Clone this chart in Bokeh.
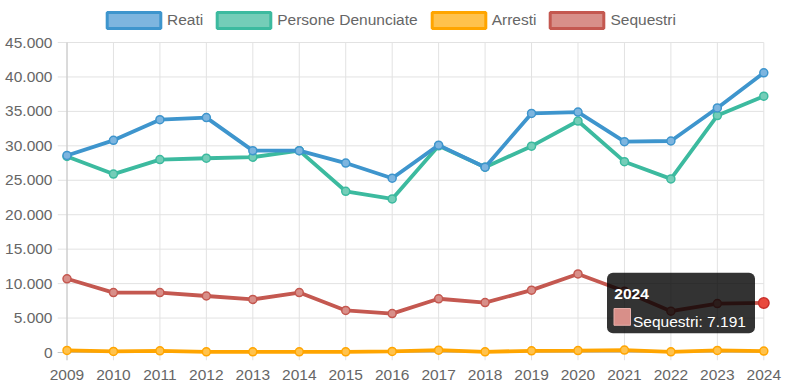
from bokeh.plotting import figure
from bokeh.models import Range1d, FixedTicker, Legend, LegendItem, ColumnDataSource
from bokeh.embed import file_html
from bokeh.resources import INLINE
from bokeh.core.properties import value

# ---------------- data ----------------
years = list(range(2009, 2025))
year_labels = [str(y) for y in years]
reati = [28600, 30800, 33800, 34100, 29300, 29300, 27500, 25300, 30100, 26900, 34700, 34900, 30600, 30700, 35500, 40600]
persone = [28450, 25900, 28000, 28200, 28350, 29300, 23400, 22300, 30000, 26900, 29950, 33600, 27700, 25200, 34400, 37200]
arresti = [300, 150, 250, 100, 100, 100, 100, 150, 340, 100, 250, 280, 350, 100, 300, 200]
sequestri = [10700, 8700, 8700, 8200, 7700, 8700, 6100, 5650, 7800, 7250, 9050, 11400, 8900, 6000, 7100, 7191]
y_ticks = [0, 5000, 10000, 15000, 20000, 25000, 30000, 35000, 40000, 45000]
y_tick_labels = ["0", "5.000", "10.000", "15.000", "20.000", "25.000", "30.000", "35.000", "40.000", "45.000"]
series_names = ["Reati", "Persone Denunciate", "Arresti", "Sequestri"]
tooltip_title = "2024"
tooltip_label = "Sequestri: 7.191"

# ---------------- styles ----------------
line_colors = ["#3e95cd", "#3cba9f", "#ffa500", "#c45850"]
fill_colors = ["#7db5df", "#74cdb8", "#ffc24d", "#d88f89"]
FONT = "Liberation Sans"
FS = "15.5px"
TXT = "#666666"
GRID = "#e2e2e2"
ZERO = "#c4c4c4"

W, H = 785, 390
B_LEFT, B_RIGHT, B_TOP, B_BOTTOM = 57, 14, 0, 30
PAD_L, PAD_B, PAD_T = 9.5, 8, 42
frame_w = W - B_LEFT - B_RIGHT
frame_h = H - B_TOP - B_BOTTOM
ppx = 696.8 / (years[-1] - years[0])
PAD_R = frame_w - PAD_L - 696.8
ppy = (frame_h - PAD_B - PAD_T) / (y_ticks[-1] - y_ticks[0])
x0 = years[0] - PAD_L / ppx
x1 = years[-1] + PAD_R / ppx
y0 = y_ticks[0] - PAD_B / ppy
y1 = y_ticks[-1] + PAD_T / ppy

p = figure(width=W, height=H, output_backend="svg", toolbar_location=None,
           x_range=Range1d(x0, x1), y_range=Range1d(y0, y1),
           min_border_left=B_LEFT, min_border_right=B_RIGHT,
           min_border_top=B_TOP, min_border_bottom=B_BOTTOM)
p.outline_line_color = None
p.background_fill_color = "white"
p.border_fill_color = "white"

# grid (drawn as segments so they stop at the chart area)
p.xgrid.visible = False
p.ygrid.visible = False
p.segment(x0=[x0] * len(y_ticks), x1=[years[-1]] * len(y_ticks), y0=y_ticks, y1=y_ticks,
          line_color=GRID, line_width=1)
p.segment(x0=years, x1=years, y0=[y0] * len(years), y1=[y_ticks[-1]] * len(years),
          line_color=GRID, line_width=1)
p.segment(x0=[x0], x1=[years[-1]], y0=[0], y1=[0], line_color=ZERO, line_width=1)
p.segment(x0=[years[0]], x1=[years[0]], y0=[y0], y1=[y_ticks[-1]], line_color=ZERO, line_width=1)

# axes
for ax in (p.xaxis, p.yaxis):
    ax.axis_line_color = None
    ax.major_tick_line_color = None
    ax.minor_tick_line_color = None
    ax.major_tick_out = 0
    ax.major_tick_in = 0
    ax.major_label_text_font = FONT
    ax.major_label_text_font_size = FS
    ax.major_label_text_color = TXT
p.xaxis.ticker = FixedTicker(ticks=years)
p.xaxis.major_label_overrides = {y: l for y, l in zip(years, year_labels)}
p.xaxis.major_label_standoff = 9
p.yaxis.ticker = FixedTicker(ticks=y_ticks)
p.yaxis.major_label_overrides = {t: l for t, l in zip(y_ticks, y_tick_labels)}
p.yaxis.major_label_standoff = 5

# series (drawn last-to-first, like the original)
all_series = [reati, persone, arresti, sequestri]
for i in reversed(range(4)):
    src = ColumnDataSource(dict(x=years, y=all_series[i]))
    p.line("x", "y", source=src, line_color=line_colors[i], line_width=3.8)
    p.scatter("x", "y", source=src, size=8, fill_color=fill_colors[i],
              line_color=line_colors[i], line_width=1.5)

# tooltip for the hovered point (2024, Sequestri)
ax_, ay_ = years[-1], sequestri[-1]
p.quad(left=[ax_ - 156.8 / ppx], right=[ax_ - 8.8 / ppx],
       top=[ay_ + 30.2 / ppy], bottom=[ay_ - 30.3 / ppy],
       fill_color="black", fill_alpha=0.8, line_color=None, border_radius=6)
p.quad(left=[ax_ - 149.8 / ppx], right=[ax_ - 133.3 / ppx],
       top=[ay_ - 5.6 / ppy], bottom=[ay_ - 22.3 / ppy],
       fill_color="#d88f89", line_color="#e8b0aa", line_width=1)
p.text(x=[ax_], y=[ay_], text=[tooltip_title], x_offset=-149.5, y_offset=-9.4,
       text_font=value(FONT), text_font_style="bold", text_font_size=FS,
       text_color="white", text_baseline="alphabetic", text_align="left")
p.text(x=[ax_], y=[ay_], text=[tooltip_label], x_offset=-130.8, y_offset=18.3,
       text_font=value(FONT), text_font_size=FS,
       text_color="white", text_baseline="alphabetic", text_align="left")
p.scatter(x=[ax_], y=[ay_], size=10.5, fill_color="#e9493d", line_color="#c9302c", line_width=1.5)

# legend (inside the frame, above the chart area); swatch renderers hold no drawable data
nan = float("nan")
items = []
for i in range(4):
    r = p.quad(left=[nan], right=[nan], top=[nan], bottom=[nan], fill_color=fill_colors[i],
               line_color=line_colors[i], line_width=3)
    items.append(LegendItem(label=series_names[i], renderers=[r]))
legend = Legend(items=items, orientation="horizontal", location=(43, 330),
                glyph_width=67, glyph_height=20, label_standoff=0, spacing=7,
                padding=0, margin=0, border_line_color=None, background_fill_alpha=0,
                label_text_font=FONT, label_text_font_size=FS, label_text_color=TXT)
p.add_layout(legend)

open("out.html", "w").write(file_html(p, INLINE))
